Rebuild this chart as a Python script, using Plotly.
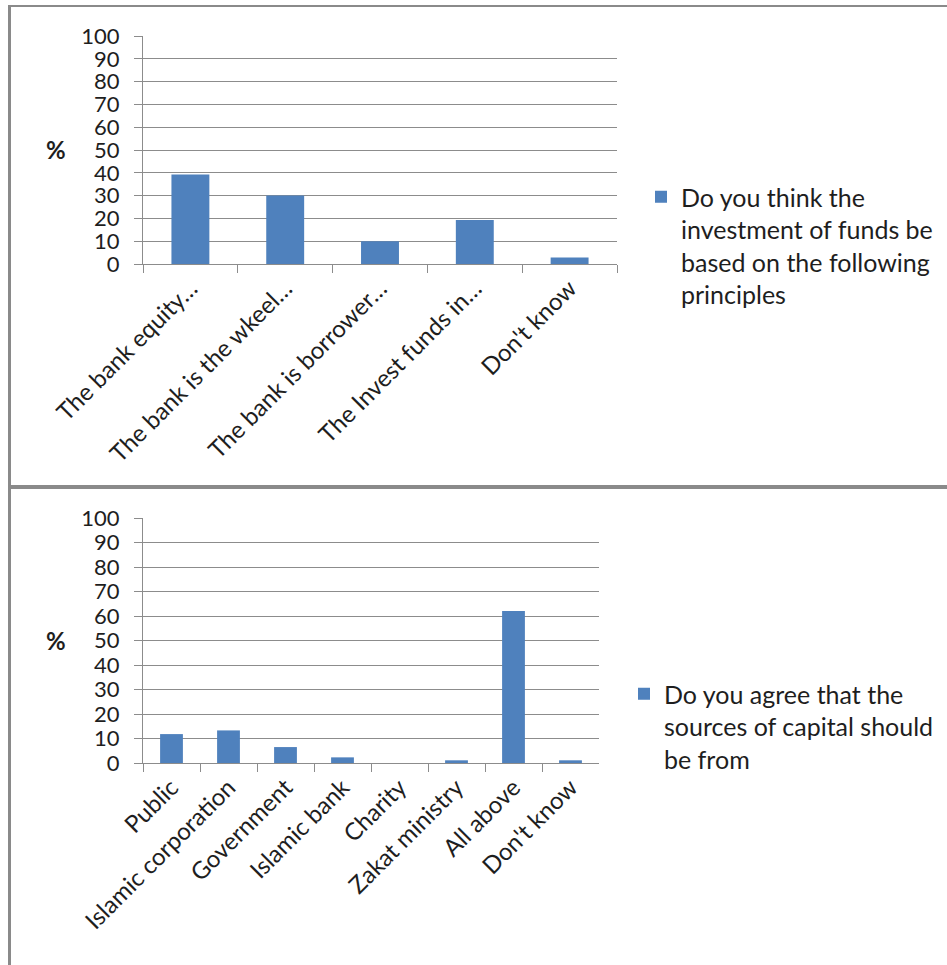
import plotly.graph_objects as go

# Survey question 1: principles for the investment of funds
invest_categories = [
    "The bank equity…",
    "The bank is the wkeel…",
    "The bank is borrower…",
    "The Invest funds in…",
    "Don't know",
]
invest_pct = [39.3, 30.0, 10.0, 19.3, 2.9]
invest_name = "Do you think the<br>investment of funds be<br>based on the following<br>principles"

# Survey question 2: sources of capital
capital_categories = [
    "Public",
    "Islamic corporation",
    "Government",
    "Islamic bank",
    "Charity",
    "Zakat ministry",
    "All above",
    "Don't know",
]
capital_pct = [11.8, 13.3, 6.5, 2.3, 0.0, 1.1, 62.0, 1.1]
capital_name = "Do you agree that the<br>sources of capital should<br>be from"

y_ticks = [0, 10, 20, 30, 40, 50, 60, 70, 80, 90, 100]

W, H = 947, 965
BAR = "#4F81BD"
GRID = "#8c8c8c"
TEXT = "#1e1e1e"
FONT = "Lato"


def px_x(v):
    return v / W


def px_y(v):
    return 1 - v / H


fig = go.Figure()

fig.add_trace(go.Bar(
    x=invest_categories, y=invest_pct, name=invest_name,
    marker=dict(color=BAR, line=dict(width=0)),
    xaxis="x", yaxis="y", legend="legend",
))
fig.add_trace(go.Bar(
    x=capital_categories, y=capital_pct, name=capital_name,
    marker=dict(color=BAR, line=dict(width=0)),
    xaxis="x2", yaxis="y2", legend="legend2",
))

common_x = dict(
    type="category", showline=True, linecolor=GRID, linewidth=1,
    ticks="outside", ticklen=8, tickcolor=GRID, tickson="boundaries",
    tickangle=-45, tickfont=dict(family=FONT, size=24, color=TEXT),
    showgrid=False, zeroline=False, fixedrange=True, automargin=False,
)
common_y = dict(
    range=[0, 100], tickvals=y_ticks, showline=True, linecolor=GRID,
    linewidth=1, ticks="outside", ticklen=8, tickcolor=GRID,
    showgrid=True, gridcolor=GRID, gridwidth=1, zeroline=False,
    tickfont=dict(family=FONT, size=22, color=TEXT),
    ticklabelstandoff=10, fixedrange=True, automargin=False,
)

legend_font = dict(family=FONT, size=25, color=TEXT)

fig.update_layout(
    width=W, height=H,
    margin=dict(l=0, r=0, t=0, b=0, autoexpand=False),
    paper_bgcolor="white", plot_bgcolor="white",
    font=dict(family=FONT, color=TEXT),
    bargap=0.6,
    showlegend=True,
    xaxis=dict(domain=[px_x(143), px_x(617)], anchor="y", **common_x),
    yaxis=dict(domain=[px_y(264), px_y(36)], anchor="x", **common_y),
    xaxis2=dict(domain=[px_x(143), px_x(599)], anchor="y2", **common_x),
    yaxis2=dict(domain=[px_y(763), px_y(518)], anchor="x2", **common_y),
    legend=dict(
        x=px_x(641), y=px_y(174), xanchor="left", yanchor="top",
        font=legend_font, valign="top", bgcolor="rgba(0,0,0,0)",
    ),
    legend2=dict(
        x=px_x(624), y=px_y(671), xanchor="left", yanchor="top",
        font=legend_font, valign="top", bgcolor="rgba(0,0,0,0)",
    ),
)

# "%" unit labels beside each value axis
for yref in ("y", "y2"):
    fig.add_annotation(
        text="<b>%</b>", xref="paper", yref=yref, x=px_x(56), y=50,
        showarrow=False, font=dict(family=FONT, size=24, color=TEXT),
        xanchor="center", yanchor="middle",
    )

# Panel frames
frame = dict(type="line", xref="paper", yref="paper", layer="above")
fig.add_shape(x0=px_x(8), x1=1, y0=px_y(6), y1=px_y(6),
              line=dict(color="#8a8a8a", width=2), **frame)
fig.add_shape(x0=px_x(9.5), x1=px_x(9.5), y0=px_y(5), y1=0,
              line=dict(color="#8a8a8a", width=3), **frame)
fig.add_shape(x0=px_x(8), x1=1, y0=px_y(487), y1=px_y(487),
              line=dict(color="#8a8a8a", width=4), **frame)

fig.write_html("out.html")
